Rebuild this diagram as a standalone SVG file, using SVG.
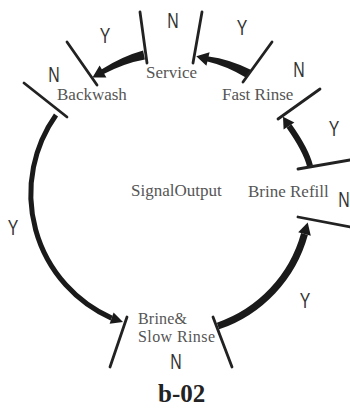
<svg xmlns="http://www.w3.org/2000/svg" width="350" height="408" viewBox="0 0 350 408">
<style>
.lbl{font-family:"Liberation Serif","Times New Roman",serif;font-size:17px;fill:#555}
.lbl2{font-family:"Liberation Serif","Times New Roman",serif;font-size:16px;fill:#555}
.yn{font-family:"Liberation Sans",Arial,sans-serif;font-size:22px;fill:#333;text-anchor:middle}
.tick{stroke:#222;stroke-width:2.8;stroke-linecap:round;fill:none}
.arc{stroke:#1a1a1a;fill:none;stroke-linecap:butt}
.head{fill:#1a1a1a}
.title{font-family:"Liberation Serif","Times New Roman",serif;font-size:25px;font-weight:bold;fill:#222}
</style>
<rect width="350" height="408" fill="#fff"/>
<g id="connectors">
  <path class="head" d="M143.1,50.6 Q122.8,56.2 101.8,69.3 L99.6,65.4 L92.5,77.4 L106.4,77.6 L104.2,73.7 Q125.2,62.8 144.9,59.4 Z"/>
  <path class="head" d="M251.3,70.1 Q229.3,59.2 208.6,56.6 L209.6,52.2 L196.3,56.2 L206.4,65.8 L207.4,61.4 Q226.7,65.8 246.7,77.9 Z"/>
  <path class="arc" stroke-width="6" d="M310,166 Q306,150 289,126"/>
  <polygon class="head" points="294.4,122.5 283,116.8 283.6,129.5"/>
  <path class="arc" stroke-width="7" d="M218,326 A135,135 0 0 0 304.5,234"/>
  <polygon class="head" points="310.8,235.7 307.7,222.4 298.2,232.3"/>
  <path class="arc" stroke-width="5" d="M56,115 A136,136 0 0 0 111.6,318.1"/>
  <polygon class="head" points="109.6,323.8 123,322 113.6,312.4"/>
</g>
<g id="ticks">
  <line class="tick" x1="24" y1="83" x2="67" y2="117"/>
  <line class="tick" x1="67" y1="42" x2="97" y2="85"/>
  <line class="tick" x1="140" y1="12" x2="147" y2="63"/>
  <line class="tick" x1="202" y1="12" x2="193" y2="63"/>
  <line class="tick" x1="272" y1="42" x2="243" y2="82"/>
  <line class="tick" x1="320" y1="89" x2="278" y2="119"/>
  <line class="tick" x1="298" y1="169" x2="350" y2="160"/>
  <line class="tick" x1="298" y1="217" x2="350" y2="227"/>
  <line class="tick" x1="127" y1="317" x2="110" y2="367"/>
  <line class="tick" x1="213" y1="317" x2="232" y2="367"/>
</g>
<g id="service"><text class="lbl" x="146" y="78">Service</text></g>
<g id="backwash"><text class="lbl" x="57" y="100">Backwash</text></g>
<g id="fast-rinse"><text class="lbl" x="222" y="100">Fast Rinse</text></g>
<g id="brine-refill"><text class="lbl" x="248" y="197">Brine Refill</text></g>
<g id="signal-output"><text class="lbl" x="131" y="196">SignalOutput</text></g>
<g id="brine-slow-rinse"><text class="lbl2" x="138" y="324" textLength="49">Brine&amp;</text><text class="lbl2" x="138" y="342" textLength="77">Slow Rinse</text></g>
<g id="labels">
  <text class="yn" transform="translate(105,43) scale(0.72,1)">Y</text>
  <text class="yn" transform="translate(173,28) scale(0.72,1)">N</text>
  <text class="yn" transform="translate(242,35) scale(0.72,1)">Y</text>
  <text class="yn" transform="translate(299,77) scale(0.72,1)">N</text>
  <text class="yn" transform="translate(334,136) scale(0.72,1)">Y</text>
  <text class="yn" transform="translate(344,207) scale(0.72,1)">N</text>
  <text class="yn" transform="translate(305,308) scale(0.72,1)">Y</text>
  <text class="yn" transform="translate(176,369) scale(0.72,1)">N</text>
  <text class="yn" transform="translate(13,235) scale(0.72,1)">Y</text>
  <text class="yn" transform="translate(54,82) scale(0.72,1)">N</text>
</g>
<g id="title"><text class="title" x="158" y="402">b-02</text></g>
</svg>
